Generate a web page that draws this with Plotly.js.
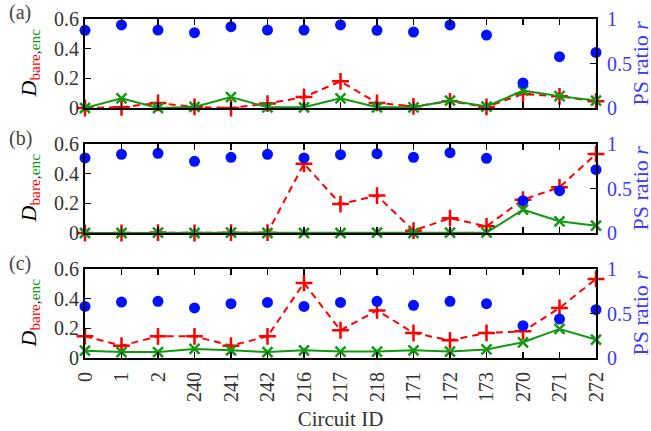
<!DOCTYPE html>
<html>
<head>
<meta charset="utf-8">
<script src="https://cdn.plot.ly/plotly-3.0.1.min.js"></script>
<style>html,body{margin:0;padding:0;background:#fff;}#chart{width:651px;height:431px;}</style>
</head>
<body>
<div id="chart"></div>
<script>
const circuits = ['0','1','2','240','241','242','216','217','218','171','172','173','270','271','272'];

// Panel (a)
const ratioA = [0.873,0.933,0.876,0.846,0.914,0.876,0.876,0.933,0.873,0.854,0.933,0.820,0.281,0.577,0.625];
const bareA  = [0.0,0.005,0.034,0.007,0.0,0.03,0.074,0.18,0.034,0.011,0.045,0.007,0.095,0.079,0.045];
const encA   = [0.0,0.065,0.0,0.007,0.074,0.005,0.005,0.065,0.005,0.005,0.05,0.01,0.117,0.08,0.05];

// Panel (b)
const ratioB = [0.843,0.884,0.895,0.805,0.850,0.884,0.843,0.880,0.891,0.850,0.903,0.839,0.363,0.476,0.712];
const bareB  = [0.0,0.0,0.003,0.0,0.002,0.002,0.467,0.195,0.252,0.016,0.10,0.045,0.225,0.308,0.533];
const encB   = [0.0,0.0,0.003,0.0,0.002,0.0,0.0,0.0,0.002,0.0,0.002,0.002,0.157,0.079,0.049];

// Panel (c)
const ratioC = [0.580,0.629,0.637,0.562,0.610,0.625,0.580,0.625,0.637,0.592,0.637,0.610,0.363,0.438,0.543];
const bareC  = [0.146,0.083,0.146,0.146,0.083,0.146,0.506,0.187,0.321,0.169,0.119,0.169,0.180,0.337,0.533];
const encC   = [0.049,0.040,0.040,0.061,0.052,0.040,0.052,0.043,0.043,0.052,0.043,0.058,0.106,0.196,0.124];

const leftTicks = [0, 0.2, 0.4, 0.6];
const leftTickText = ['0', '0.2', '0.4', '0.6'];
const rightTicks = [0, 0.5, 1];
const rightTickText = ['0', '0.5', '1'];
const panelLabels = ['(a)', '(b)', '(c)'];
const leftTitle = '<i>D</i><sub><span style="color:#ff0000">bare</span>,<span style="color:#119911">enc</span></sub>';
const rightTitle = 'PS ratio <i>r</i>';
const xTitle = 'Circuit ID';

const RED = '#ff0000', GREEN = '#119911', BLUE = '#0011ff', TBLUE = '#3a3aff';
const FONT = 'Liberation Serif';

function panelTraces(ratio, bare, enc, xa, yl, yr) {
  return [
    {x: circuits, y: ratio, xaxis: xa, yaxis: yr, type: 'scatter', mode: 'markers', cliponaxis: false,
     marker: {symbol: 'circle', size: 11, color: BLUE}},
    {x: circuits, y: bare, xaxis: xa, yaxis: yl, type: 'scatter', mode: 'lines+markers', cliponaxis: false,
     line: {color: RED, width: 2, dash: '7px,5px'},
     marker: {symbol: 'cross-thin', size: 12, line: {color: RED, width: 2.5}}},
    {x: circuits, y: enc, xaxis: xa, yaxis: yl, type: 'scatter', mode: 'lines+markers', cliponaxis: false,
     line: {color: GREEN, width: 2},
     marker: {symbol: 'x-thin', size: 10, line: {color: GREEN, width: 2.5}}}
  ];
}

const data = [].concat(
  panelTraces(ratioC, bareC, encC, 'x', 'y', 'y2'),
  panelTraces(ratioB, bareB, encB, 'x2', 'y3', 'y4'),
  panelTraces(ratioA, bareA, encA, 'x3', 'y5', 'y6')
);

const H = 339;
const domains = [[0, 89/H], [125/H, 214/H], [250/H, 1]];

function xAxis(anchor, showLabels) {
  return {
    type: 'category', categoryorder: 'array', categoryarray: circuits,
    range: [0, 14], anchor: anchor, domain: [0, 1],
    showline: true, linecolor: '#000', linewidth: 2, mirror: 'ticks',
    ticks: 'inside', ticklen: 6, tickwidth: 1.5, tickcolor: '#000',
    showgrid: false, zeroline: false, showticklabels: showLabels,
    tickangle: -90, ticklabelstandoff: 4,
    tickfont: {family: FONT, size: 20, color: '#333'}
  };
}
function yLeft(anchor, dom) {
  return {
    domain: dom, anchor: anchor, range: [0, 0.6],
    tickvals: leftTicks, ticktext: leftTickText,
    showline: true, linecolor: '#000', linewidth: 2, mirror: false,
    ticks: 'inside', ticklen: 6, tickwidth: 1.5, tickcolor: '#000',
    showgrid: false, zeroline: false,
    tickfont: {family: FONT, size: 20, color: '#333'}
  };
}
function yRight(overlay, anchor) {
  return {
    overlaying: overlay, anchor: anchor, side: 'right', range: [0, 1],
    tickvals: rightTicks, ticktext: rightTickText,
    showline: true, linecolor: '#000', linewidth: 2,
    ticks: 'inside', ticklen: 6, tickwidth: 1.5, tickcolor: '#000',
    showgrid: false, zeroline: false, ticklabelstandoff: 5,
    tickfont: {family: FONT, size: 20, color: TBLUE}
  };
}

const xa = xAxis('y', true);
xa.title = {text: xTitle, font: {family: FONT, size: 21, color: '#333'}, standoff: 12};

const annY = [(358 - 13) / H, (358 - 138) / H, (358 - 263) / H];
const midY = [domains[2], domains[1], domains[0]].map(d => (d[0] + d[1]) / 2);
const annotations = [];
panelLabels.forEach((t, i) => {
  annotations.push({
    text: t, xref: 'paper', yref: 'paper', x: -78/511, y: annY[i],
    xanchor: 'left', yanchor: 'middle', showarrow: false,
    font: {family: FONT, size: 20, color: '#444'}
  });
  annotations.push({
    text: leftTitle, xref: 'paper', yref: 'paper', x: (29 - 85)/511, y: midY[i],
    xanchor: 'center', yanchor: 'middle', showarrow: false, textangle: -90,
    font: {family: FONT, size: 22, color: '#000'}
  });
  annotations.push({
    text: rightTitle, xref: 'paper', yref: 'paper', x: (640 - 85)/511, y: midY[i],
    xanchor: 'center', yanchor: 'middle', showarrow: false, textangle: -90,
    font: {family: FONT, size: 22, color: TBLUE}
  });
});

const layout = {
  width: 651, height: 431,
  margin: {l: 85, r: 55, t: 19, b: 73},
  paper_bgcolor: '#fff', plot_bgcolor: '#fff',
  showlegend: false,
  font: {family: FONT, size: 20, color: '#333'},
  xaxis: xa,
  xaxis2: xAxis('y3', false),
  xaxis3: xAxis('y5', false),
  yaxis: yLeft('x', domains[0]),
  yaxis2: yRight('y', 'x'),
  yaxis3: yLeft('x2', domains[1]),
  yaxis4: yRight('y3', 'x2'),
  yaxis5: yLeft('x3', domains[2]),
  yaxis6: yRight('y5', 'x3'),
  annotations: annotations
};

Plotly.newPlot('chart', data, layout, {displayModeBar: false, staticPlot: true});
</script>
</body>
</html>
